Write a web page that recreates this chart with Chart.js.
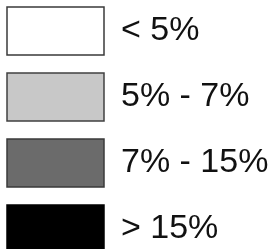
<!DOCTYPE html>
<html>
<head>
<meta charset="utf-8">
<script src="https://cdn.jsdelivr.net/npm/chart.js@4"></script>
<style>
  html, body { margin: 0; padding: 0; background: #fff; overflow: hidden; width: 270px; height: 249px; }
  #wrap { position: absolute; left: -11px; top: -11px; width: 290px; height: 320px; }
</style>
</head>
<body>
<div id="wrap"><canvas id="legendChart"></canvas></div>
<script>
// legend classes (share of the total)
const categories = ['< 5%', '5% - 7%', '7% - 15%', '> 15%'];
const fillColors = ['#ffffff', '#c8c8c8', '#6b6b6b', '#000000'];
const edgeColors = ['#3a3a3a', '#404040', '#3a3a3a', '#000000'];

document.addEventListener("DOMContentLoaded", () => {
    const ctx = document.getElementById('legendChart').getContext('2d');
    const legendChart = new Chart(ctx, {
        type: 'bar',
        data: {
            labels: [],
            datasets: categories.map((label, i) => ({
                label: label,
                data: [],
                backgroundColor: fillColors[i],
                borderColor: edgeColors[i],
                borderWidth: 1.5
            }))
        },
        options: {
            responsive: true,
            maintainAspectRatio: false,
            animation: false,
            scales: {
                x: { display: false },
                y: { display: false }
            },
            plugins: {
                legend: {
                    position: 'left',
                    align: 'start',
                    maxWidth: 1000, // keep the labels from being clipped
                    onClick: null,
                    labels: {
                        boxWidth: 97,
                        boxHeight: 48,
                        padding: 18,
                        color: '#111',
                        font: { family: '"Liberation Sans", Arial, sans-serif', size: 34 }
                    }
                },
                tooltip: { enabled: false }
            }
        }
    });
});
</script>
</body>
</html>
